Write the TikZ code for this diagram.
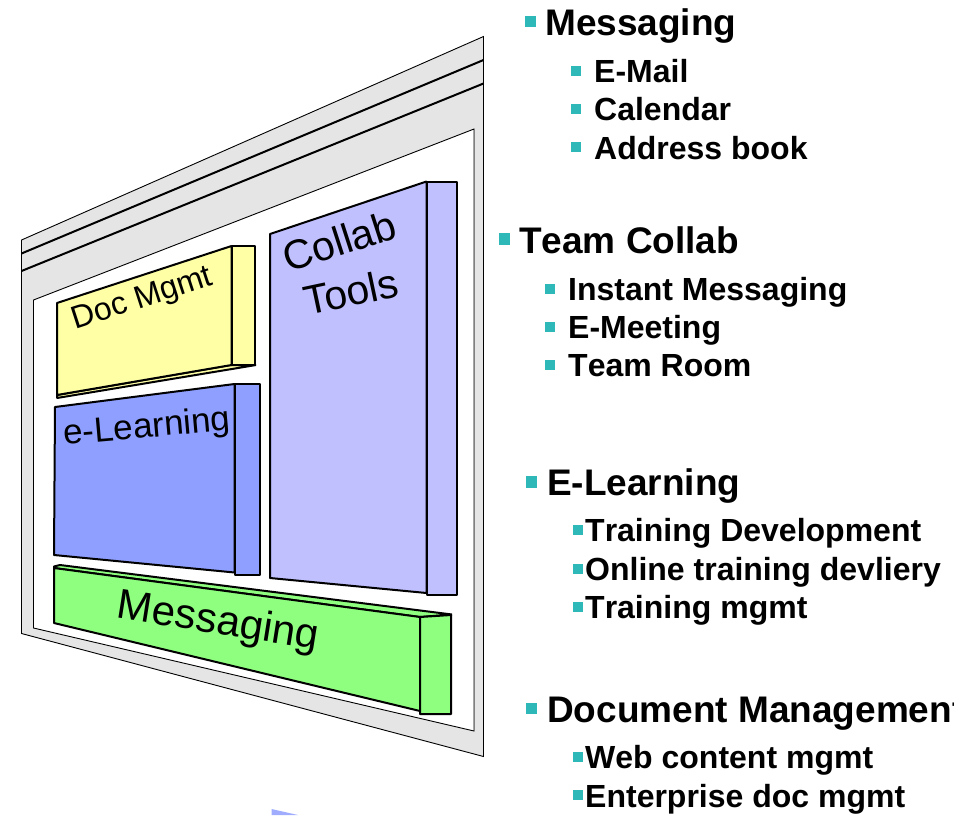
\documentclass[tikz,border=0pt]{standalone}
\usepackage{fontspec}
\setmainfont[BoldFeatures={Kerning=Off}]{Liberation Sans}
\definecolor{framegray}{HTML}{E5E5E5}
\definecolor{docyellow}{HTML}{FFFFA6}
\definecolor{learnblue}{HTML}{8F9FFF}
\definecolor{collabblue}{HTML}{C0C0FF}
\definecolor{msggreen}{HTML}{8FFF7F}
\definecolor{bulletteal}{HTML}{2FB8B8}
\tikzset{
  frameline/.style={draw=black,line width=0.9pt,line join=miter},
  heavy/.style={draw=black,line width=2pt,line join=bevel},
  slat/.style={draw=black,line width=2pt},
  head/.style={anchor=base west,inner sep=0pt,font=\fontsize{37}{37}\selectfont\bfseries},
  sub/.style={anchor=base west,inner sep=0pt,font=\fontsize{32}{32}\selectfont\bfseries},
  bighead/.style={fill=bulletteal,draw=none,inner sep=0pt,minimum size=11.5pt},
  smallbul/.style={fill=bulletteal,draw=none,inner sep=0pt,minimum size=10pt},
  blocklabel/.style={inner sep=0pt,align=center,text=black}
}
\begin{document}
\begin{tikzpicture}[x=1pt,y=-1pt]
\useasboundingbox (0,0) rectangle (954,815);
% frame
\filldraw[frameline,fill=framegray] (21.5,240) -- (483.5,36.5) -- (483.5,756.5) -- (21.5,633.5) -- cycle;
\filldraw[frameline,fill=white] (33.5,300) -- (474,129) -- (474,731) -- (33.5,628) -- cycle;
\draw[gray,line width=1pt] (474,129) -- (474,731);
\draw[slat] (21.5,253.5) -- (483.5,60);
\draw[slat] (21.5,271) -- (483.5,83.5);
% Doc Mgmt block
\filldraw[heavy,fill=docyellow] (57,395) -- (57,398) -- (256,365) -- (231,365) -- cycle;
\filldraw[heavy,fill=docyellow] (57,303) -- (231.5,246) -- (231.5,365) -- (57,395) -- cycle;
\filldraw[heavy,fill=docyellow] (231.5,246) -- (255,246) -- (255,365) -- (231.5,365) -- cycle;
\node[blocklabel,rotate=18,font=\fontsize{32}{32}\selectfont] (docmgmt) at (142.5,299.5) {Doc Mgmt};
% e-Learning block
\filldraw[heavy,fill=learnblue] (55,407) -- (234.5,384) -- (234.5,572.5) -- (54,555) -- cycle;
\filldraw[heavy,fill=learnblue] (234.5,384) -- (260,384) -- (260,574.5) -- (234.5,574.5) -- cycle;
\node[blocklabel,rotate=5,font=\fontsize{35}{35}\selectfont] (elearning) at (147,428.5) {e-Learning};
% Collab Tools block
\filldraw[heavy,fill=collabblue] (270,234) -- (426.5,181.5) -- (426.5,593) -- (270,578) -- cycle;
\filldraw[heavy,fill=collabblue] (426.5,181.5) -- (457,181.5) -- (457,595) -- (426.5,595) -- cycle;
\node[blocklabel,rotate=18,font=\fontsize{41}{41}\selectfont] (collab) at (339.5,241) {Collab};
\node[blocklabel,rotate=12,font=\fontsize{41}{41}\selectfont] (tools) at (351,291.5) {Tools};
% Messaging block
\filldraw[heavy,fill=msggreen] (54,568) -- (54,566.5) -- (60,565) -- (452,614.5) -- (420,617) -- cycle;
\filldraw[heavy,fill=msggreen] (54,568) -- (420,617) -- (420,711) -- (54,623) -- cycle;
\filldraw[heavy,fill=msggreen] (420,617) -- (451,615) -- (451,714) -- (420,714) -- cycle;
\node[blocklabel,rotate=-9,font=\fontsize{42}{42}\selectfont] (msgblock) at (218,623) {Messaging};
% sliver of a shape cut by the lower edge
\fill[learnblue!85!white] (271.5,809) -- (298,815) -- (271.5,815) -- cycle;
% list 1
\node[bighead] (b1) at (530.5,21.5) {};
\node[head] (t1) at (545,35) {Messaging};
\node[smallbul] (b11) at (575.5,70.5) {};
\node[sub] (t11) at (594,82) {E-Mail};
\node[smallbul] (b12) at (575.5,108.5) {};
\node[sub] (t12) at (594,120) {Calendar};
\node[smallbul] (b13) at (575.5,147) {};
\node[sub] (t13) at (594,159) {Address book};
% list 2
\node[bighead] (b2) at (504.5,239) {};
\node[head] (t2) at (519,253) {Team Collab};
\node[smallbul] (b21) at (550,288.5) {};
\node[sub] (t21) at (568,300) {Instant Messaging};
\node[smallbul] (b22) at (550,326.5) {};
\node[sub] (t22) at (568,338) {E-Meeting};
\node[smallbul] (b23) at (550,364.5) {};
\node[sub] (t23) at (568,376) {Team Room};
% list 3
\node[bighead] (b3) at (531.5,482) {};
\node[head] (t3) at (547,495) {E-Learning};
\node[smallbul] (b31) at (577.5,530) {};
\node[sub] (t31) at (585,541) {Training Development};
\node[smallbul] (b32) at (577.5,568.5) {};
\node[sub] (t32) at (585,580) {Online training devliery};
\node[smallbul] (b33) at (577.5,606.5) {};
\node[sub] (t33) at (585,618) {Training mgmt};
% list 4
\node[bighead] (b4) at (531.5,708.5) {};
\node[head] (t4) at (547,722) {Document Management};
\node[smallbul] (b41) at (577.5,756.5) {};
\node[sub] (t41) at (585,768) {Web content mgmt};
\node[smallbul] (b42) at (577.5,795) {};
\node[sub] (t42) at (585,807) {Enterprise doc mgmt};
\end{tikzpicture}
\end{document}
